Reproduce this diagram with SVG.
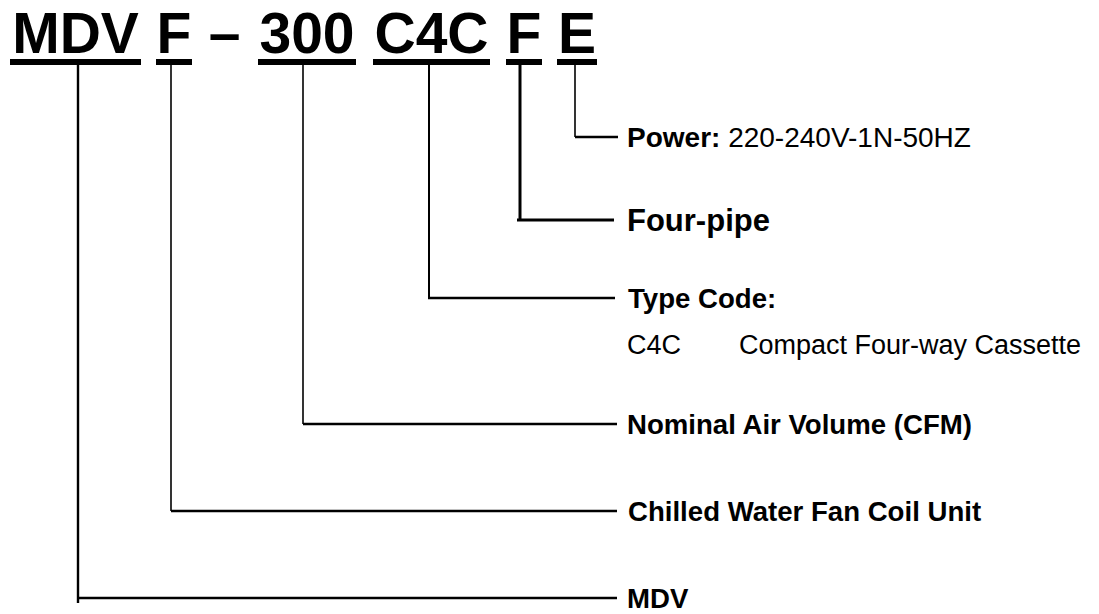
<svg xmlns="http://www.w3.org/2000/svg" width="1099" height="614" viewBox="0 0 1099 614">
<style>
.title{font-family:"Liberation Sans",Arial,sans-serif;font-weight:bold;font-size:57px;fill:#000;text-anchor:middle}
.lbl{font-family:"Liberation Sans",Arial,sans-serif;font-size:27.6px;fill:#000}
.b{font-weight:bold}
.ul{fill:#000}
.v{stroke:#000;stroke-width:2;fill:none}
.h{stroke:#000;stroke-width:2.6;fill:none}
</style>
<rect width="1099" height="614" fill="#fff"/>
<g id="code">
<text class="title" x="75.5" y="53">MDV</text>
<text class="title" x="174" y="53">F</text>
<text class="title" x="224.5" y="53">–</text>
<text class="title" x="307" y="53">300</text>
<text class="title" x="431.5" y="53">C4C</text>
<text class="title" x="524" y="53">F</text>
<text class="title" x="577" y="53">E</text>
<rect class="ul" x="10" y="59" width="131" height="6"/>
<rect class="ul" x="156" y="59" width="36" height="6"/>
<rect class="ul" x="258" y="59" width="98" height="6"/>
<rect class="ul" x="373" y="59" width="117" height="6"/>
<rect class="ul" x="506" y="59" width="36" height="6"/>
<rect class="ul" x="557" y="59" width="40" height="6"/>
</g>
<g id="connectors">
<path class="v" d="M575,65 V137" style="stroke-width:1.6"/><path class="h" d="M575,137 H618"/>
<path class="v" d="M520,65 V220" style="stroke-width:3"/><path class="h" d="M517,220 H614" style="stroke-width:3"/>
<path class="v" d="M429,65 V298"/><path class="h" d="M428,298 H615"/>
<path class="v" d="M303,65 V424" style="stroke-width:1.6"/><path class="h" d="M303,424 H617"/>
<path class="v" d="M171,65 V511" style="stroke-width:1.6"/><path class="h" d="M171,511 H617"/>
<path class="v" d="M78,65 V603" style="stroke-width:2.4"/><path class="h" d="M78,598 H617"/>
</g>
<g id="power"><text class="lbl" x="627" y="147" style="font-size:28px"><tspan class="b">Power:</tspan> 220-240V-1N-50HZ</text></g>
<g id="fourpipe"><text class="lbl b" x="627" y="231" style="font-size:31px">Four-pipe</text></g>
<g id="typecode">
<text class="lbl b" x="628" y="308">Type Code:</text>
<text class="lbl" x="627" y="354" style="font-size:27px">C4C</text>
<text class="lbl" x="739" y="354" style="font-size:27px">Compact Four-way Cassette</text>
</g>
<g id="airvolume"><text class="lbl b" x="627" y="434">Nominal Air Volume (CFM)</text></g>
<g id="fcu"><text class="lbl b" x="628" y="521">Chilled Water Fan Coil Unit</text></g>
<g id="brand"><text class="lbl b" x="627" y="608">MDV</text></g>
</svg>
